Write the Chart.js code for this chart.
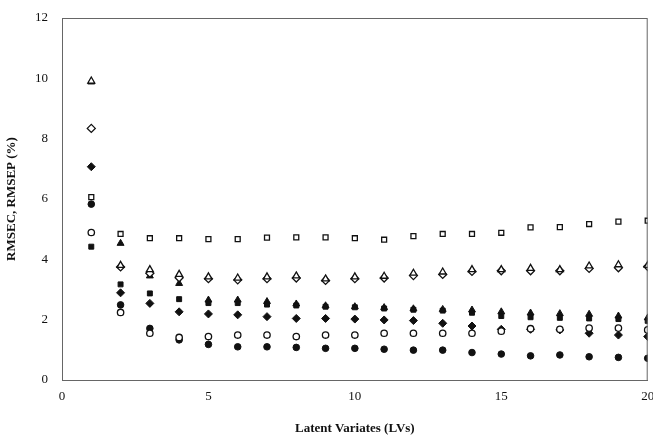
<!DOCTYPE html>
<html>
<head>
<meta charset="utf-8">
<script src="https://cdn.jsdelivr.net/npm/chart.js@4/dist/chart.umd.min.js"></script>
<style>
  html, body { margin: 0; padding: 0; background: #fff; }
  #wrap { width: 653px; height: 440px; }
</style>
</head>
<body>
<div id="wrap"><canvas id="c" width="653" height="440"></canvas></div>
<script>
// Latent variates 1..20
const LVS = [1, 2, 3, 4, 5, 6, 7, 8, 9, 10, 11, 12, 13, 14, 15, 16, 17, 18, 19, 20];

// values (%)
const openSquare   = [6.06, 4.84, 4.70, 4.70, 4.67, 4.67, 4.72, 4.73, 4.73, 4.70, 4.65, 4.77, 4.84, 4.84, 4.88, 5.06, 5.07, 5.17, 5.25, 5.28];
const openTriangle = [9.91, 3.80, 3.66, 3.50, 3.42, 3.38, 3.42, 3.45, 3.35, 3.42, 3.44, 3.54, 3.58, 3.66, 3.66, 3.70, 3.66, 3.78, 3.82, 3.80];
const openDiamond  = [8.34, 3.75, 3.54, 3.39, 3.36, 3.32, 3.36, 3.38, 3.30, 3.36, 3.38, 3.46, 3.50, 3.60, 3.62, 3.62, 3.62, 3.70, 3.72, 3.76];
const fillTriangle = [9.88, 4.53, 3.45, 3.20, 2.65, 2.65, 2.60, 2.52, 2.46, 2.43, 2.40, 2.36, 2.34, 2.32, 2.26, 2.22, 2.20, 2.18, 2.12, 2.06];
const fillSquare   = [4.42, 3.17, 2.87, 2.68, 2.55, 2.55, 2.50, 2.47, 2.43, 2.41, 2.37, 2.33, 2.30, 2.23, 2.12, 2.08, 2.06, 2.04, 2.02, 1.96];
const fillDiamond  = [7.07, 2.89, 2.54, 2.26, 2.19, 2.16, 2.10, 2.04, 2.04, 2.02, 1.99, 1.97, 1.88, 1.79, 1.68, 1.68, 1.66, 1.55, 1.49, 1.44];
const openCircle   = [4.89, 2.24, 1.55, 1.41, 1.44, 1.49, 1.49, 1.44, 1.49, 1.49, 1.55, 1.55, 1.55, 1.55, 1.62, 1.70, 1.68, 1.72, 1.72, 1.66];
const fillCircle   = [5.83, 2.49, 1.71, 1.33, 1.18, 1.10, 1.10, 1.08, 1.05, 1.05, 1.02, 0.99, 0.99, 0.91, 0.86, 0.80, 0.83, 0.77, 0.75, 0.72];

const X_TICKS = [0, 5, 10, 15, 20];
const Y_TICKS = [0, 2, 4, 6, 8, 10, 12];

const INK = '#111';
const AXIS = '#666';

function series(values, style, filled, radius) {
  return {
    data: values.map((v, i) => ({ x: LVS[i], y: v })),
    pointStyle: style,
    pointRadius: radius,
    pointBorderWidth: filled ? 1 : 1.3,
    borderColor: INK,
    backgroundColor: filled ? INK : '#fff',
    showLine: false,
  };
}

// box round the plot area
const frame = {
  id: 'frame',
  afterDraw(chart) {
    const { ctx, chartArea: a } = chart;
    ctx.save();
    ctx.strokeStyle = AXIS;
    ctx.lineWidth = 1;
    ctx.strokeRect(a.left + 0.5, a.top + 0.5, a.right - a.left - 1, a.bottom - a.top);
    ctx.restore();
  },
};

const serif = "'Liberation Serif', 'DejaVu Serif', serif";

new Chart(document.getElementById('c'), {
  type: 'scatter',
  data: {
    datasets: [
      series(openSquare, 'rect', false, 3.5),
      series(openTriangle, 'triangle', false, 4),
      series(openDiamond, 'rectRot', false, 4),
      series(fillSquare, 'rect', true, 3.5),
      series(fillTriangle, 'triangle', true, 4),
      series(openCircle, 'circle', false, 3.2),
      series(fillDiamond, 'rectRot', true, 4),
      series(fillCircle, 'circle', true, 3.3),
    ],
  },
  options: {
    responsive: false,
    animation: false,
    layout: { padding: { top: 18, right: 5, left: 0, bottom: 0 } },
    plugins: { legend: { display: false }, tooltip: { enabled: false } },
    scales: {
      x: {
        type: 'linear',
        min: 0, max: 20,
        afterBuildTicks: s => { s.ticks = X_TICKS.map(v => ({ value: v })); },
        afterFit: s => { s.height = 60; s.paddingRight = 0; s.paddingLeft = 0; },
        grid: { display: false, drawTicks: true, tickLength: 5, color: AXIS },
        border: { color: AXIS, width: 1 },
        ticks: { color: INK, font: { family: serif, size: 13 }, padding: 4, maxRotation: 0 },
        title: { display: true, text: 'Latent Variates (LVs)', color: INK, font: { family: serif, size: 13, weight: 'bold' }, padding: { top: 6 } },
      },
      y: {
        type: 'linear',
        min: 0, max: 12,
        afterBuildTicks: s => { s.ticks = Y_TICKS.map(v => ({ value: v })); },
        afterFit: s => { s.width = 62; },
        grid: { display: false, drawTicks: true, tickLength: 5, color: AXIS },
        border: { color: AXIS, width: 1 },
        ticks: { color: INK, font: { family: serif, size: 13 }, padding: 9 },
        title: { display: true, text: 'RMSEC, RMSEP (%)', color: INK, font: { family: serif, size: 13, weight: 'bold' }, padding: { bottom: 6 } },
      },
    },
  },
  plugins: [frame],
});
</script>
</body>
</html>
